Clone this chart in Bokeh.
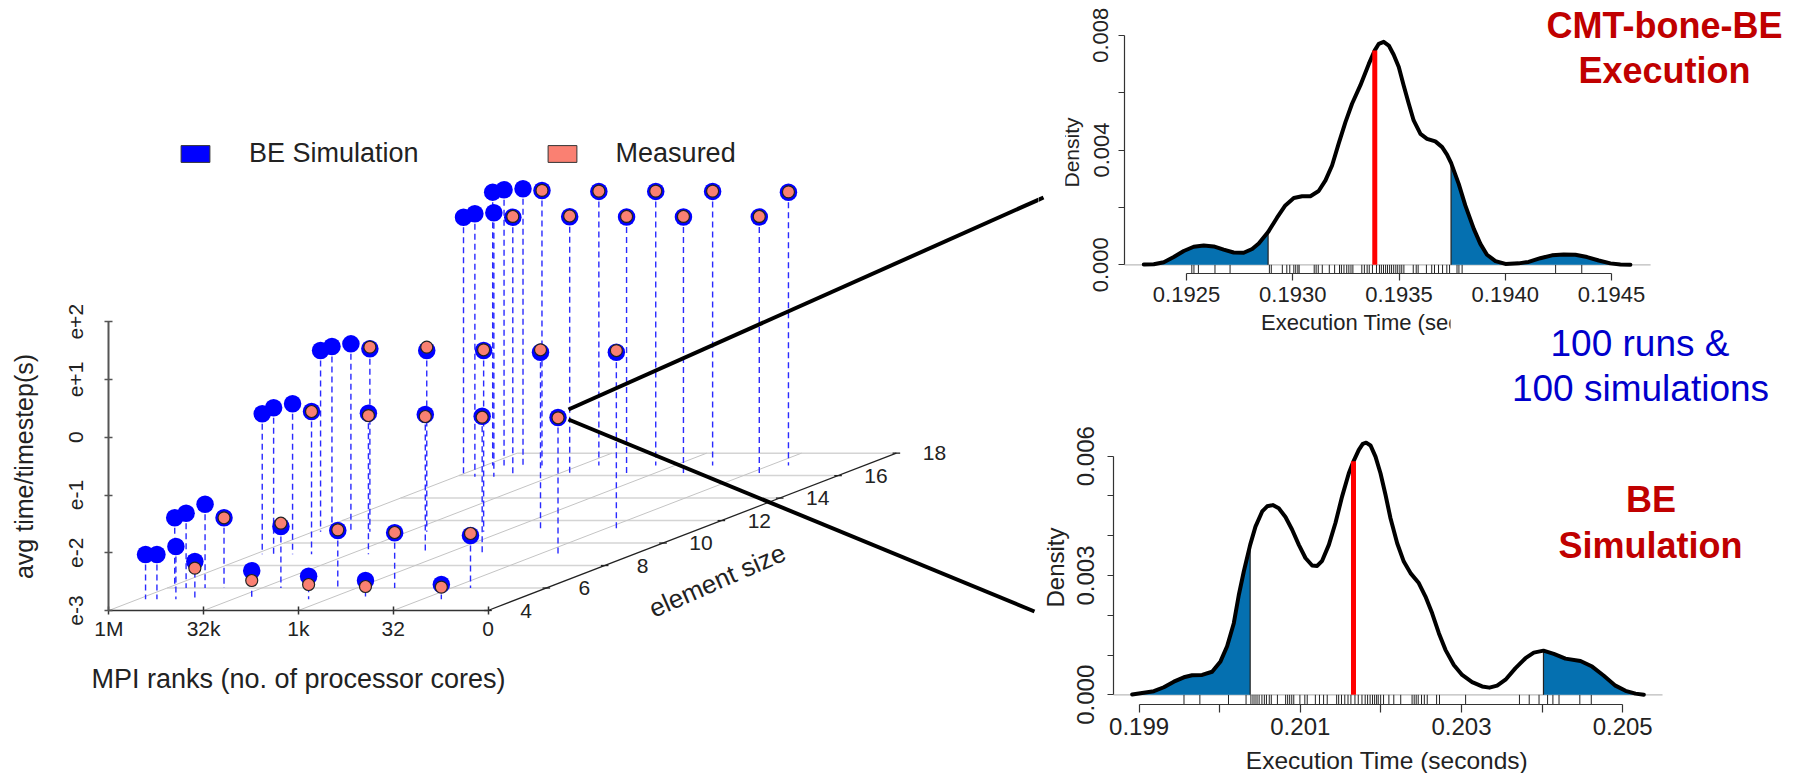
import math
from bokeh.embed import file_html
from bokeh.resources import INLINE
from bokeh.core.properties import value
from bokeh.layouts import row, column
from bokeh.models import (BoxAnnotation, FixedTicker, Label, Legend, LegendItem,
                          LinearAxis, Range1d)
from bokeh.plotting import figure

# ---------- data: 3D panel ----------
element_sizes = [5, 6, 9, 11, 15.9, 16.9]
rank_log2 = [19.6, 19, 18, 17, 14, 11, 8, 4]
measured_rank_log2 = [17, 14, 11, 8, 4]
sim_size5 = [-2.225, -2.225, -2.086, -2.346, -2.507, -2.601, -2.675, -2.744]
sim_size6 = [-1.784, -1.705, -1.549, -1.784, -1.935, -2.004, -2.044, -2.091]
sim_size9 = [-0.567, -0.463, -0.394, -0.527, -0.557, -0.579, -0.609, -0.631]
sim_size11 = [0.139, 0.209, 0.255, 0.169, 0.139, 0.139, 0.11, 0.11]
sim_size16 = [1.494, 1.553, 1.571, 1.494, 1.501, 1.498, 1.498, 1.498]
sim_size17 = [1.733, 1.775, 1.792, 1.763, 1.746, 1.746, 1.746, 1.732]
meas_size5 = [-2.462, -2.675, -2.744, -2.779, -2.791]
meas_size6 = [-1.784, -1.878, -1.992, -2.039, -2.056]
meas_size9 = [-0.527, -0.597, -0.614, -0.626, -0.636]
meas_size11 = [0.197, 0.197, 0.152, 0.152, 0.139]
meas_size16 = [1.507, 1.515, 1.507, 1.507, 1.507]
meas_size17 = [1.763, 1.751, 1.751, 1.751, 1.737]
x_tick_values = [20, 15, 10, 5, 0]
x_tick_labels = ["1M", "32k", "1k", "32", "0"]
z_tick_values = [-3, -2, -1, 0, 1, 2]
z_tick_labels = ["e-3", "e-2", "e-1", "0", "e+1", "e+2"]
size_ticks = [4, 6, 8, 10, 12, 14, 16, 18]

# ---------- data: top density ----------
top_t = [.192299, .192346, .192393, .19244, .192487, .192534, .192581, .192628, .192675, .192722,
         .192769, .192809, .19284, .192884, .192926, .192965, .193005, .193044, .193083, .193122,
         .193154, .193185, .193216, .193248, .193279, .193318, .193358, .193386, .193405, .193428,
         .193452, .193475, .193499, .193522, .193546, .193569, .193601, .193632, .193671, .193703,
         .193726, .193745, .193781, .193812, .193852, .193883, .193914, .193954, .194001, .194063,
         .19411, .194165, .19422, .194275, .19433, .194385, .19444, .194495, .194542, .194589]
top_d = [.00001, .00002, .00009, .00027, .00048, .00063, .00067, .00064, .00053, .00043,
         .00042, .00055, .00074, .00114, .00164, .00207, .00233, .00239, .00239, .00257,
         .00294, .00346, .00422, .00497, .00561, .00625, .007, .00747, .0077, .00777,
         .00764, .00732, .00689, .00625, .00561, .00503, .00456, .00439, .0043, .0041,
         .00384, .00355, .00282, .00207, .00125, .00073, .00035, .00013, .00003, .00005,
         .0001, .00023, .00033, .00036, .00035, .00027, .00015, .00005, .00001, 0]
top_rug = [.192525, .192535, .192556, .192634, .192705, .19289, .192899, .192951, .192972,
           .192986, .193005, .193014, .193024, .19303, .193101, .19311, .19312, .193139,
           .193172, .193197, .19322, .193229, .193241, .193254, .193264, .193274, .193283,
           .193325, .193337, .19335, .19336, .193375, .193394, .193408, .193417, .193427,
           .193437, .193446, .193456, .193465, .193475, .193485, .193494, .193504, .193513,
           .193523, .193567, .193581, .19359, .193629, .193654, .193667, .193686, .193705,
           .193725, .193738, .193773, .193782, .193797, .194237, .19436]
top_low, top_high, top_mean, top_mean_d = .192884, .193745, .193386, .00747
top_x_ticks = [.1925, .1930, .1935, .1940, .1945]
top_x_labels = ["0.1925", "0.1930", "0.1935", "0.1940", "0.1945"]
top_y_ticks = [0, .002, .004, .006, .008]
top_y_labels = ["0.000", "", "0.004", "", "0.008"]

# ---------- data: bottom density ----------
bot_t = [.198914, .199058, .199183, .199307, .199431, .199555, .199658, .199782, .199906, .20001,
         .200092, .200175, .200237, .200299, .200378, .200444, .200527, .200589, .200659, .200733,
         .200816, .200899, .200982, .201064, .201147, .201209, .201271, .201354, .201436, .201519,
         .201602, .20166, .201726, .201775, .201817, .201871, .201933, .201995, .202057, .202119,
         .202202, .202284, .202367, .20247, .202553, .202636, .202719, .202801, .202905, .203008,
         .203132, .203256, .203347, .203442, .203546, .20367, .203794, .203897, .204017, .204145,
         .20429, .204476, .204621, .204766, .20491, .205035, .205159, .205262]
bot_d = [.00001, .00005, .00009, .00019, .00033, .00044, .00049, .0005, .00058, .00084,
         .00122, .0018, .00251, .0031, .00377, .00423, .00461, .00474, .00477, .00469,
         .00447, .00415, .00377, .00344, .00325, .00324, .00337, .00377, .00432, .00499,
         .00557, .00587, .00616, .00631, .00634, .00627, .00599, .00557, .00503, .00444,
         .00381, .00335, .00306, .00281, .00247, .00205, .00155, .00113, .00075, .0005,
         .00032, .00021, .00018, .00023, .00038, .00067, .00092, .00106, .00111, .00103,
         .00091, .00085, .00071, .00048, .00023, .0001, .00003, 0]
bot_rug = [.199557, .199754, .200109, .200327, .200387, .200413, .200438, .200463, .200489,
           .200524, .200554, .20058, .200615, .20064, .200716, .200818, .200843, .200868,
           .200894, .200919, .200995, .201056, .201086, .201187, .201238, .201289, .201334,
           .201451, .201476, .201511, .201552, .201592, .201628, .201678, .201719, .201765,
           .201805, .201835, .201866, .201896, .201922, .201947, .201967, .201997, .202033,
           .202099, .20216, .202246, .202387, .202413, .202438, .202463, .202504, .202539,
           .202575, .202691, .202727, .203051, .203719, .20384, .203962, .204068, .204134,
           .20421, .204468, .20461]
bot_low, bot_high, bot_mean, bot_mean_d = .200378, .204017, .20166, .00587
bot_x_ticks = [.199, .200, .201, .202, .203, .204, .205]
bot_x_labels = ["0.199", "", "0.201", "", "0.203", "", "0.205"]
bot_y_ticks = [0, .001, .002, .003, .004, .005, .006]
bot_y_labels = ["0.000", "", "", "0.003", "", "", "0.006"]

FONT = "Liberation Sans"
BLUE = "#0000ff"
SALMON = "#fa8072"
SHADE = "#0570b0"
RED_T = "#c00000"
BLUE_T = "#0000cc"

# ---------- left panel: oblique projection of (ranks, element size, time) ----------
PX_K, PX_Z = 18.96, 57.75          # pixels per log2 rank, per decade
DK, DZ = 29.17 / PX_K, 11.24 / PX_Z  # shift per unit of element size
L_LEFT, L_BOTTOM = 108.3, 610.0
SPLIT_X, SPLIT_Y, PAGE_W, PAGE_H = 1038, 410, 1802, 773


def proj_x(k, s):
    return k - (s - 4) * DK


def proj_z(z, s):
    return z + (s - 4) * DZ


def lx(px):  # page pixel -> left panel x
    return 20 - (px - L_LEFT) / PX_K


def lz(py):  # page pixel -> left panel y
    return -3 + (L_BOTTOM - py) / PX_Z


left = figure(width=SPLIT_X, height=PAGE_H, output_backend="svg", toolbar_location=None,
              x_range=Range1d(lx(0), lx(SPLIT_X)), y_range=Range1d(lz(PAGE_H), lz(0)),
              x_axis_type=None, y_axis_type=None,
              min_border_left=0, min_border_bottom=0,
              min_border_top=0, min_border_right=0, outline_line_color=None)
left.grid.visible = False

xax = LinearAxis(ticker=FixedTicker(ticks=x_tick_values), bounds=(0, 20), fixed_location=-3,
                 major_label_overrides=dict(zip(x_tick_values, x_tick_labels)),
                 major_tick_in=4, major_tick_out=4, minor_tick_line_color=None,
                 axis_line_color="#333333", axis_line_width=1.5, major_tick_line_color="#333333",
                 major_tick_line_width=1.5, major_label_standoff=2,
                 major_label_text_font=FONT, major_label_text_font_size="21px",
                 major_label_text_color="#222222")
left.add_layout(xax, "below")
zax = LinearAxis(ticker=FixedTicker(ticks=z_tick_values), bounds=(-3, 2), fixed_location=20,
                 major_label_overrides=dict(zip(z_tick_values, z_tick_labels)),
                 major_label_orientation="parallel",
                 major_tick_in=4, major_tick_out=4, minor_tick_line_color=None,
                 axis_line_color="#555555", axis_line_width=2, major_tick_line_color="#555555",
                 major_tick_line_width=1.5, major_label_standoff=22,
                 major_label_text_font=FONT, major_label_text_font_size="21px",
                 major_label_text_color="#222222")
left.add_layout(zax, "left")

# floor
sz_lines = size_ticks[1:]
left.segment([proj_x(20, s) for s in sz_lines], [proj_z(-3, s) for s in sz_lines],
             [proj_x(0, s) for s in sz_lines], [proj_z(-3, s) for s in sz_lines],
             line_color="#d4d4d4", line_width=1.5)
ks = x_tick_values[:-1]
left.segment([proj_x(k, 4) for k in ks], [proj_z(-3, 4)] * len(ks),
             [proj_x(k, 18) for k in ks], [proj_z(-3, 18)] * len(ks),
             line_color="#c4c4c4", line_width=1)
left.segment([proj_x(0, 4)], [proj_z(-3, 4)], [proj_x(0, 18)], [proj_z(-3, 18)],
             line_color="#222222", line_width=1.3)
left.segment([proj_x(0.2, s) for s in size_ticks], [proj_z(-3, s) for s in size_ticks],
             [proj_x(-0.2, s) for s in size_ticks], [proj_z(-3, s) for s in size_ticks],
             line_color="#222222", line_width=1.3)
left.text([proj_x(0, s) for s in size_ticks], [proj_z(-3, s) for s in size_ticks],
          text=[str(s) for s in size_ticks], x_offset=38, text_align="center",
          text_baseline="middle", text_font=value(FONT), text_font_size="21px",
          text_color="#222222")

sim_rows = [sim_size5, sim_size6, sim_size9, sim_size11, sim_size16, sim_size17]
meas_rows = [meas_size5, meas_size6, meas_size9, meas_size11, meas_size16, meas_size17]
sx, sy, fy, mx, my = [], [], [], [], []
for s, zs, ms in zip(element_sizes, sim_rows, meas_rows):
    for k, z in zip(rank_log2, zs):
        sx.append(proj_x(k, s))
        sy.append(proj_z(z, s))
        fy.append(proj_z(-3, s))
    for k, z in zip(measured_rank_log2, ms):
        mx.append(proj_x(k, s))
        my.append(proj_z(z, s))
left.segment(sx, sy, sx, fy, line_color="#2a2aff", line_width=1.4, line_dash="6 4")
left.scatter(sx, sy, size=17.5, marker="circle", fill_color=BLUE, line_color=None)
left.scatter(mx, my, size=12, marker="circle", fill_color=SALMON, line_color="#222222",
             line_width=1.2)

# call-out lines
left.segment([lx(568), lx(568)], [lz(409), lz(419)], [lx(1043), lx(1034)], [lz(197), lz(611)],
             line_color="black", line_width=4)

left.add_layout(Label(x=lx(23), y=lz(466), text="avg time/timestep(s)", angle=math.pi / 2,
                      text_align="center", text_baseline="middle", text_font=FONT,
                      text_font_size="25px", text_color="#222222"))
left.add_layout(Label(x=lx(298), y=lz(678), text="MPI ranks (no. of processor cores)",
                      text_align="center", text_baseline="middle", text_font=FONT,
                      text_font_size="27px", text_color="#222222"))
left.add_layout(Label(x=lx(716.7), y=lz(580), text="element size", angle=math.radians(23.7),
                      text_align="center", text_baseline="middle", text_font=FONT,
                      text_font_size="26px", text_color="#222222"))

nan = float("nan")
sw_sim = left.quad(left=[nan], right=[nan], top=[nan], bottom=[nan], fill_color=BLUE, line_color="#333333")
sw_meas = left.quad(left=[nan], right=[nan], top=[nan], bottom=[nan], fill_color=SALMON, line_color="#333333")
legend = Legend(items=[LegendItem(label="BE Simulation", renderers=[sw_sim]),
                       LegendItem(label="Measured", renderers=[sw_meas])],
                orientation="horizontal", location=(177, 604), glyph_width=36, glyph_height=21,
                label_standoff=36, spacing=125, padding=0, margin=0, border_line_color=None,
                background_fill_alpha=0, label_text_font=FONT, label_text_font_size="27px",
                label_text_color="#222222")
left.add_layout(legend)


# ---------- density panels ----------
def density_panel(height, px_left, px_top, px_bottom, px_tick0, t0, px_per_t, px_zero,
                  px_per_d, curve_t, curve_d, rug, low, high, mean, mean_d, x_ticks, x_labels,
                  y_ticks, y_labels, base_end, font_px, tick_out, x_stand, y_stand):
    tx = lambda px: t0 + (px - px_tick0) / px_per_t
    dy = lambda py: (px_zero - py) / px_per_d
    p = figure(width=PAGE_W - SPLIT_X, height=height, output_backend="svg", toolbar_location=None,
               x_range=Range1d(tx(SPLIT_X), tx(PAGE_W)),
               y_range=Range1d(dy(px_top + height), dy(px_top)),
               x_axis_type=None, y_axis_type=None,
               min_border_left=0, min_border_bottom=0,
               min_border_top=0, min_border_right=0, outline_line_color=None)
    p.grid.visible = False
    common = dict(minor_tick_line_color=None, major_tick_in=0, axis_line_color="#333333",
                  major_tick_line_color="#333333", axis_line_width=1.2, major_tick_line_width=1.2,
                  major_label_text_font=FONT, major_label_text_font_size=f"{font_px}px",
                  major_label_text_color="#222222")
    p.add_layout(LinearAxis(ticker=FixedTicker(ticks=x_ticks), bounds=(x_ticks[0], x_ticks[-1]),
                            fixed_location=dy(px_bottom),
                            major_label_overrides=dict(zip(x_ticks, x_labels)),
                            major_tick_out=tick_out, major_label_standoff=x_stand, **common), "below")
    p.add_layout(LinearAxis(ticker=FixedTicker(ticks=y_ticks), bounds=(y_ticks[0], y_ticks[-1]),
                            fixed_location=tx(px_left),
                            major_label_overrides=dict(zip(y_ticks, y_labels)),
                            major_label_orientation="parallel",
                            major_tick_out=6, major_label_standoff=y_stand, **common), "left")
    p.segment([tx(px_left)], [0], [base_end], [0], line_color="#bbbbbb", line_width=1.2)
    bottom = dy(px_bottom)
    p.segment(rug, [0] * len(rug), rug, [bottom] * len(rug), line_color="#222222", line_width=1)
    lo = [(t, d) for t, d in zip(curve_t, curve_d) if t <= low]
    hi = [(t, d) for t, d in zip(curve_t, curve_d) if t >= high]
    for part in (lo, hi):
        p.varea([a for a, _ in part], [0] * len(part), [b for _, b in part], fill_color=SHADE)
    p.segment([lo[-1][0], hi[0][0]], [0, 0], [lo[-1][0], hi[0][0]], [lo[-1][1], hi[0][1]],
              line_color="#222222", line_width=1.2)
    p.line(curve_t, curve_d, line_color="black", line_width=4, line_join="round", line_cap="round")
    p.segment([mean], [0], [mean], [mean_d], line_color="#ff0000", line_width=5)
    return p, tx, dy


top, tx, ty = density_panel(SPLIT_Y, 1124.0, 0.0, 273.3, 1186.0, .1925, 212500.0, 264.3, 28700.0,
                            top_t, top_d, top_rug, top_low, top_high, top_mean, top_mean_d,
                            top_x_ticks, top_x_labels, top_y_ticks, top_y_labels, .194684,
                            22, 7, 6, 10)
bot, bx, by = density_panel(PAGE_H - SPLIT_Y, 1113.0, SPLIT_Y, 704.3, 1138.6, .199, 80600.0, 694.3, 39770.0,
                            bot_t, bot_d, bot_rug, bot_low, bot_high, bot_mean, bot_mean_d,
                            bot_x_ticks, bot_x_labels, bot_y_ticks, bot_y_labels, .205494,
                            24, 8, 5, 13)


def put(p, fx, fy_, px, py, text, size, color="#222222", bold=False, angle=0):
    p.add_layout(Label(x=fx(px), y=fy_(py), text=text, text_align="center", text_baseline="middle",
                       text_font=FONT, text_font_size=f"{size}px", text_color=color,
                       text_font_style="bold" if bold else "normal", angle=angle))


# end of the upper call-out line, which runs into this panel's strip
top.segment([tx(1030)], [ty(202.8)], [tx(1043)], [ty(197)], line_color="black", line_width=4)
put(top, tx, ty, 1071, 152, "Density", 21, angle=math.pi / 2)
top.add_layout(Label(x=tx(1260.6), y=ty(322), text="Execution Time (sec", text_align="left",
                     text_baseline="middle", text_font=FONT, text_font_size="22px",
                     text_color="#222222"))
top.add_layout(BoxAnnotation(left=tx(1450), right=tx(1470), bottom=ty(340), top=ty(305),
                             fill_color="white", fill_alpha=1, line_color=None, level="overlay"))
top.add_layout(BoxAnnotation(left=tx(1050), right=tx(1064.7), bottom=ty(195), top=ty(110),
                             fill_color="white", fill_alpha=1, line_color=None, level="overlay"))
put(top, tx, ty, 1664, 25, "CMT-bone-BE", 36, RED_T, True)
put(top, tx, ty, 1664, 70, "Execution", 36, RED_T, True)
put(top, tx, ty, 1639.5, 343, "100 runs &", 37, BLUE_T)
put(top, tx, ty, 1640, 387.5, "100 simulations", 37, BLUE_T)

put(bot, bx, by, 1054.5, 567, "Density", 24, angle=math.pi / 2)
put(bot, bx, by, 1386.5, 760, "Execution Time (seconds)", 24.5)
put(bot, bx, by, 1650.5, 499, "BE", 36, RED_T, True)
put(bot, bx, by, 1650, 544.6, "Simulation", 36, RED_T, True)

page = row(left, column(top, bot, spacing=0), spacing=0)
open("out.html", "w").write(file_html(page, INLINE))
